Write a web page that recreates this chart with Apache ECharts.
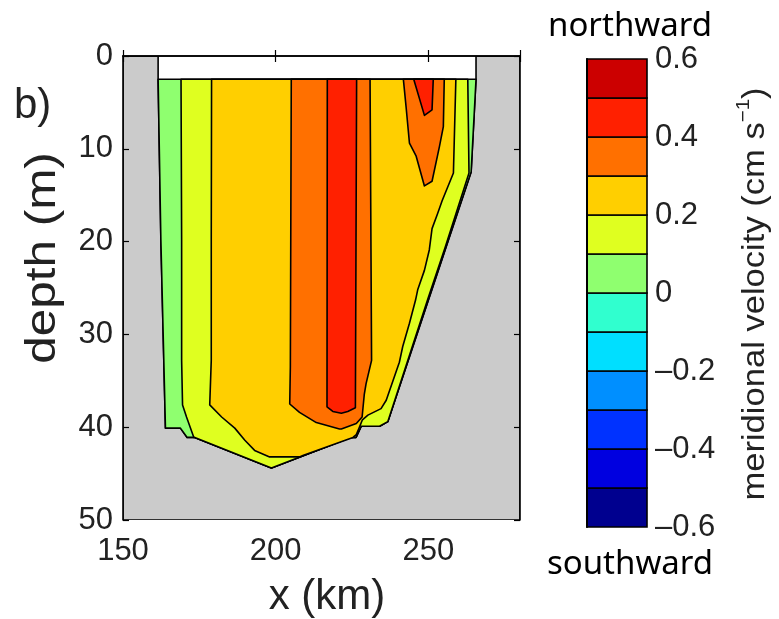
<!DOCTYPE html>
<html>
<head>
<meta charset="utf-8">
<script src="https://cdn.jsdelivr.net/npm/echarts@6/dist/echarts.min.js"></script>
<style>
  html, body { margin: 0; padding: 0; background: #fff; }
  #chart { width: 779px; height: 619px; }
</style>
</head>
<body>
<div id="chart"></div>
<script>
// Contour levels of meridional velocity and the fill colour of each band between them
const levels = [-0.6, -0.5, -0.4, -0.3, -0.2, -0.1, 0, 0.1, 0.2, 0.3, 0.4, 0.5, 0.6];
const bandColors = ['#00008F', '#0000E0', '#0032FF', '#008FFF', '#00DFFF', '#30FFCF',
                    '#8FFF6F', '#DFFF20', '#FFCF00', '#FF7000', '#FF2000', '#CC0000'];
const colorbarTicks = [-0.6, -0.4, -0.2, 0, 0.2, 0.4, 0.6];
const xTicks = [150, 200, 250];
const depthTicks = [0, 10, 20, 30, 40, 50];

// Section outline [x (km), depth (m)]: water below the unsampled 2.5 m surface layer
const sectionOutline = [
  [161.5, 2.5], [162.4, 19.8], [163.9, 40.1], [168.8, 40.1], [171.0, 41.1], [173.5, 41.1],
  [198.6, 44.4], [224.5, 41.1], [226.3, 41.1], [228.0, 39.9], [234.0, 39.9], [236.7, 39.4],
  [264.0, 12.5], [265.6, 2.5]
];

// Region where velocity exceeds 0.1
const above01 = [
  [169.0, 2.5], [169.2, 19.8], [169.2, 32.8], [169.5, 37.6], [170.8, 38.9], [173.2, 41.1],
  [173.5, 41.1], [198.6, 44.4], [224.5, 41.1], [226.3, 41.1], [228.0, 39.9], [234.0, 39.9],
  [236.7, 39.4], [249.9, 26.1], [255.5, 20.6], [259.6, 16.4], [263.3, 12.6], [262.9, 2.5]
];

// Region where velocity exceeds 0.2
const above02 = [
  [179.0, 2.5], [178.9, 19.8], [178.9, 32.8], [178.4, 37.6], [182.3, 38.9], [186.6, 40.1],
  [189.9, 41.4], [193.1, 42.5], [198.0, 43.2], [207.8, 43.2], [208.9, 43.05], [225.3, 41.1],
  [226.4, 40.8], [227.3, 40.1], [228.4, 39.2], [230.2, 38.7], [234.5, 38.0], [236.2, 37.1],
  [240.5, 33.0], [241.6, 31.3], [243.8, 28.8], [245.8, 26.3], [246.5, 25.2], [248.7, 23.1],
  [250.3, 20.9], [251.2, 18.6], [253.0, 17.0], [254.5, 15.6], [258.2, 12.6], [259.0, 2.5]
];

// Regions where velocity exceeds 0.3 (central core and eastern surface tongue)
const above03West = [
  [205.1, 2.5], [204.8, 33.5], [204.6, 37.5], [207.8, 38.4], [213.3, 39.5], [220.9, 40.2],
  [221.5, 40.2], [226.4, 39.6], [228.3, 38.9], [229.0, 36.5], [229.6, 35.3], [231.4, 32.8],
  [230.9, 2.5]
];
const above03East = [
  [241.8, 2.5], [242.7, 5.5], [243.8, 9.4], [246.0, 10.8], [248.7, 14.0], [251.2, 13.5],
  [253.6, 9.8], [254.9, 7.6], [255.2, 2.5]
];

// Regions where velocity exceeds 0.4
const above04West = [
  [216.9, 2.5], [216.8, 37.8], [218.7, 38.3], [221.5, 38.5], [223.6, 38.3], [226.1, 37.9],
  [226.5, 2.5]
];
const above04East = [
  [245.2, 2.5], [248.7, 6.4], [251.2, 5.8], [251.6, 2.5]
];

const xRange = [150, 280];
const depthRange = [0, 50];

function bandColor(lowerLevel) {
  return bandColors[levels.indexOf(lowerLevel)];
}

// Land (grey) fills everything outside the section, up to the surface
const landOutline = [
  [xRange[0], depthRange[0]], [sectionOutline[0][0], depthRange[0]]
].concat(sectionOutline, [
  [sectionOutline[sectionOutline.length - 1][0], depthRange[0]],
  [xRange[1], depthRange[0]], [xRange[1], depthRange[1]], [xRange[0], depthRange[1]]
]);

// Filled contour layers, painted from the lowest level upwards
const layers = [
  { outline: landOutline, color: '#CBCBCB' },
  { outline: sectionOutline, color: bandColor(0) },
  { outline: above01, color: bandColor(0.1) },
  { outline: above02, color: bandColor(0.2) },
  { outline: above03West, color: bandColor(0.3) },
  { outline: above03East, color: bandColor(0.3) },
  { outline: above04West, color: bandColor(0.4) },
  { outline: above04East, color: bandColor(0.4) }
];

const tickFont = 'Liberation Sans, Arial, Helvetica, sans-serif';
const textColor = '#222';
const frameLine = { color: '#000', width: 1.6 };

const chart = echarts.init(document.getElementById('chart'), null, { renderer: 'canvas' });

chart.setOption({
  animation: false,
  backgroundColor: '#fff',
  grid: [
    { left: 123, top: 56, width: 397, height: 464, show: true, backgroundColor: '#fff', borderWidth: 0 },
    { left: 587, top: 59, width: 60, height: 468, show: false }
  ],
  xAxis: [
    {
      gridIndex: 0, type: 'value', min: xRange[0], max: xRange[1], interval: 50, position: 'bottom', z: 10,
      axisLine: { show: true, lineStyle: frameLine },
      axisTick: { show: true, inside: true, length: 6, lineStyle: { color: '#000', width: 1.2 } },
      axisLabel: {
        fontSize: 31, fontFamily: tickFont, color: textColor, margin: 16,
        formatter: v => (xTicks.indexOf(v) >= 0 ? String(v) : '')
      },
      splitLine: { show: false }
    },
    {
      gridIndex: 0, type: 'value', min: xRange[0], max: xRange[1], interval: 50, position: 'top', z: 10,
      axisLine: { show: true, lineStyle: frameLine },
      axisTick: { show: true, inside: true, length: 6, lineStyle: { color: '#000', width: 1.2 } },
      axisLabel: { show: false },
      splitLine: { show: false }
    },
    { gridIndex: 1, type: 'value', min: 0, max: 1, show: false }
  ],
  yAxis: [
    {
      gridIndex: 0, type: 'value', inverse: true, min: depthRange[0], max: depthRange[1], interval: 10,
      position: 'left', z: 10,
      axisLine: { show: true, lineStyle: frameLine },
      axisTick: { show: true, inside: true, length: 6, lineStyle: { color: '#000', width: 1.2 } },
      axisLabel: {
        fontSize: 31, fontFamily: tickFont, color: textColor, margin: 10,
        formatter: v => (depthTicks.indexOf(v) >= 0 ? String(v) : '')
      },
      splitLine: { show: false }
    },
    {
      gridIndex: 0, type: 'value', inverse: true, min: depthRange[0], max: depthRange[1], interval: 10,
      position: 'right', z: 10,
      axisLine: { show: true, lineStyle: frameLine },
      axisTick: { show: true, inside: true, length: 6, lineStyle: { color: '#000', width: 1.2 } },
      axisLabel: { show: false },
      splitLine: { show: false }
    },
    {
      gridIndex: 1, type: 'value', min: levels[0], max: levels[levels.length - 1], interval: 0.2,
      position: 'right', z: 10,
      axisLine: { show: true, lineStyle: { color: '#000', width: 2 } },
      axisTick: { show: false },
      axisLabel: {
        fontSize: 31, fontFamily: tickFont, color: textColor, margin: 8,
        formatter: v => {
          const t = colorbarTicks.find(c => Math.abs(c - v) < 1e-9);
          if (t === undefined) return '';
          if (t === 0) return '0';
          return (t < 0 ? '\u2013' : '') + Math.abs(t).toFixed(1);
        }
      },
      splitLine: { show: false }
    }
  ],
  series: [
    {
      type: 'custom',
      name: 'meridional velocity',
      xAxisIndex: 0, yAxisIndex: 0,
      clip: true,
      data: layers.map(l => [l.outline[0][0], l.outline[0][1]]),
      renderItem: (params, api) => {
        const layer = layers[params.dataIndex];
        return {
          type: 'polygon',
          shape: { points: layer.outline.map(p => api.coord(p)) },
          style: { fill: layer.color, stroke: '#000', lineWidth: 1.6, lineJoin: 'round' }
        };
      }
    },
    {
      type: 'custom',
      name: 'colorbar',
      xAxisIndex: 2, yAxisIndex: 2,
      data: bandColors.map((c, i) => [0, levels[i], levels[i + 1]]),
      encode: { x: 0, y: [1, 2] },
      renderItem: (params, api) => {
        const p0 = api.coord([0, api.value(2)]);
        const p1 = api.coord([1, api.value(1)]);
        return {
          type: 'rect',
          shape: { x: p0[0], y: p0[1], width: p1[0] - p0[0], height: p1[1] - p0[1] },
          style: { fill: bandColors[params.dataIndex], stroke: '#000', lineWidth: 1.6 }
        };
      }
    }
  ],
  graphic: [
    {
      type: 'text', x: 14, y: 106,
      style: { text: 'b)', fontSize: 42, fontFamily: tickFont, fill: textColor, align: 'left', verticalAlign: 'middle' }
    },
    {
      type: 'text', x: 43, y: 258, rotation: Math.PI / 2, scaleX: 1.15,
      style: { text: 'depth (m)', fontSize: 43, fontFamily: tickFont, fill: textColor, align: 'center', verticalAlign: 'middle' }
    },
    {
      type: 'text', x: 327, y: 597,
      style: { text: 'x (km)', fontSize: 42, fontFamily: tickFont, fill: textColor, align: 'center', verticalAlign: 'middle' }
    },
    {
      type: 'text', x: 630, y: 27,
      style: { text: 'northward', fontSize: 33, fontFamily: 'Noto Sans, Open Sans, sans-serif', fill: '#000', align: 'center', verticalAlign: 'middle' }
    },
    {
      type: 'text', x: 630, y: 565,
      style: { text: 'southward', fontSize: 33, fontFamily: 'Noto Sans, Open Sans, sans-serif', fill: '#000', align: 'center', verticalAlign: 'middle' }
    },
    {
      type: 'text', x: 755, y: 294, rotation: Math.PI / 2, scaleX: 1.08,
      style: {
        text: 'meridional velocity (cm s{sup|\u22121})',
        fontSize: 32, fontFamily: tickFont, fill: textColor, align: 'center', verticalAlign: 'middle',
        rich: {
          sup: { fontSize: 19, fontFamily: tickFont, fill: textColor, padding: [0, 0, 22, 0] }
        }
      }
    }
  ]
});
</script>
</body>
</html>
